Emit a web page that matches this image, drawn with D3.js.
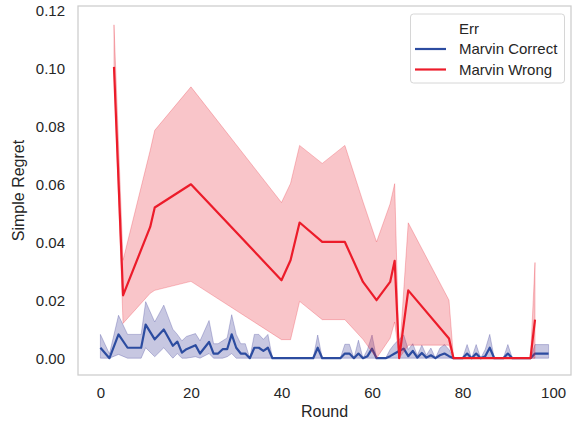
<!DOCTYPE html>
<html>
<head>
<meta charset="utf-8">
<script src="https://cdn.jsdelivr.net/npm/d3@7"></script>
<style>
  html, body { margin: 0; padding: 0; background: #fff; }
  svg { display: block; font-family: "Liberation Sans", Arial, sans-serif; }
</style>
</head>
<body>
<svg id="chart" width="576" height="423"></svg>
<script>
// ---- data ----
const xTicks = [0, 20, 40, 60, 80, 100];
const yTicks = [0, 0.02, 0.04, 0.06, 0.08, 0.10, 0.12];
const seriesNames = ["Marvin Correct", "Marvin Wrong"];
const legendTitle = "Err";

const correctRounds = [0,2,4,6,9,10,12,14,16,17,18,19,21,22,24,25,26,27,28,29,30,31,32,33,34,35,36,37,38,47,48,49,53,54,55,56,57,58,59,60,61,63,64,65,66,67,68,69,70,71,72,73,74,75,76,77,78,80,81,82,83,84,85,86,87,89,90,91,95,96,99];
const correctMean  = [0.0036,0,0.0082,0.0036,0.0036,0.0116,0.0065,0.0099,0.0043,0.0057,0.0019,0.0031,0.0045,0.0016,0.0056,0.0016,0.0016,0.0031,0.0031,0.0082,0.0036,0.0016,0.0016,0,0.0036,0.0036,0.0025,0.0036,0,0,0.0036,0,0,0.0016,0.0016,0,0.0016,0,0.0007,0.0033,0,0,0.0007,0.0016,0.0025,0.0033,0.0007,0.0025,0.0002,0.0018,0.0002,0.0010,0,0.0010,0.0016,0.0007,0,0,0.0016,0,0.0016,0,0.0007,0.0036,0,0,0.0016,0,0,0.0016,0.0016];
const correctLo    = [0,0,0.0013,0,0,0.0036,0.0005,0.0036,0,0.0016,0,0,0.0005,0,0.0016,0,0,0,0.0005,0.0016,0,0,0,0,0,0,0,0,0,0,0,0,0,0,0,0,0,0,0,0,0,0,0,0,0,0,0,0,0,0,0,0,0,0,0,0,0,0,0,0,0,0,0,0,0,0,0,0,0,0,0];
const correctHi    = [0.0082,0.0015,0.0148,0.0082,0.0082,0.0195,0.0125,0.0183,0.0100,0.0082,0.0060,0.0075,0.0085,0.0060,0.0130,0.0050,0.0050,0.0060,0.0070,0.0150,0.0082,0.0050,0.0050,0,0.0082,0.0082,0.0065,0.0082,0,0,0.0080,0,0,0.0048,0.0048,0,0.0062,0,0.0030,0.0080,0,0,0.0030,0.0050,0.0065,0.0080,0.0030,0.0050,0.0010,0.0045,0.0010,0.0035,0,0.0035,0.0047,0.0030,0,0,0.0047,0,0.0047,0,0.0030,0.0082,0,0,0.0047,0,0,0.0047,0.0047];

const wrongRounds = [3,5,11,12,20,40,42,44,49,54,58,61,64,65,66,68,77,78,85,95,96];
const wrongMean   = [0.1005,0.0217,0.0453,0.0520,0.0600,0.0269,0.0338,0.0468,0.0401,0.0401,0.0263,0.0200,0.0263,0.0336,0,0.0234,0.0068,0,0,0,0.0133];
const wrongLo     = [0.1000,0.0120,0.0224,0.0234,0.0265,0.0064,0.0064,0.0196,0.0133,0.0133,0.0065,0.0000,0.0069,0.0125,0,0.0045,0.0045,0,0,0,0];
const wrongHi     = [0.1150,0.0338,0.0717,0.0786,0.0936,0.0537,0.0603,0.0734,0.0672,0.0734,0.0540,0.0401,0.0533,0.0602,0,0.0467,0.0200,0,0,0,0.0330];

// ---- layout ----
const svg = d3.select("#chart");
const L = 78, R = 571, T = 6, B = 375;
const x = d3.scaleLinear().domain([-4.95, 103.95]).range([L, R]);
const y = d3.scaleLinear().domain([-0.0058, 0.1215]).range([B, T]);

function rows(rs, m, lo, hi) { return rs.map((r, i) => ({r, m: m[i], lo: lo[i], hi: hi[i]})); }
const series = [
  {name: seriesNames[0], data: rows(correctRounds, correctMean, correctLo, correctHi), line: "#2c4ca0", band: "rgba(40,40,140,0.26)"},
  {name: seriesNames[1], data: rows(wrongRounds, wrongMean, wrongLo, wrongHi), line: "#ec1c2a", band: "rgba(232,32,48,0.26)"}
];

const area = d3.area().x(d => x(d.r)).y0(d => y(d.lo)).y1(d => y(d.hi));
const line = d3.line().x(d => x(d.r)).y(d => y(d.m));

series.forEach(s => {
  svg.append("path").attr("d", area(s.data)).attr("fill", s.band)
     .attr("stroke", s.band).attr("stroke-width", 1);
  svg.append("path").attr("d", line(s.data)).attr("fill", "none")
     .attr("stroke", s.line).attr("stroke-width", 2.2).attr("stroke-linejoin", "round");
});

// frame
svg.append("rect").attr("x", L).attr("y", T).attr("width", R - L).attr("height", B - T)
   .attr("fill", "none").attr("stroke", "#cccccc").attr("stroke-width", 1.25);

// axes (no tick marks)
const xAxis = svg.append("g").attr("transform", `translate(0,${B})`)
  .call(d3.axisBottom(x).tickValues(xTicks).tickSize(0).tickPadding(12).tickFormat(d3.format("d")));
const yAxis = svg.append("g").attr("transform", `translate(${L},0)`)
  .call(d3.axisLeft(y).tickValues(yTicks).tickSize(0).tickPadding(13).tickFormat(d3.format(".2f")));
[xAxis, yAxis].forEach(g => {
  g.select(".domain").remove();
  g.selectAll("text").attr("font-size", 15).attr("fill", "#262626")
   .attr("font-family", "'Liberation Sans', Arial, sans-serif");
});

svg.append("text").attr("x", (L + R) / 2).attr("y", 417).attr("text-anchor", "middle")
   .attr("font-size", 16).attr("fill", "#262626").text("Round");
svg.append("text").attr("transform", `translate(24,${(T + B) / 2}) rotate(-90)`)
   .attr("text-anchor", "middle").attr("font-size", 16).attr("fill", "#262626").text("Simple Regret");

// legend
const lg = svg.append("g");
lg.append("rect").attr("x", 410.5).attr("y", 14).attr("width", 154).attr("height", 69)
  .attr("rx", 3).attr("fill", "rgba(255,255,255,0.8)").attr("stroke", "#d6d6d6").attr("stroke-width", 1);
lg.append("text").attr("x", 459).attr("y", 34).attr("font-size", 15).attr("fill", "#262626").text(legendTitle);
series.forEach((s, i) => {
  const yy = 49 + i * 20.5;
  lg.append("line").attr("x1", 415).attr("x2", 446).attr("y1", yy).attr("y2", yy)
    .attr("stroke", s.line).attr("stroke-width", 2.2);
  lg.append("text").attr("x", 459).attr("y", yy + 5).attr("font-size", 15).attr("fill", "#262626").text(s.name);
});
</script>
</body>
</html>
